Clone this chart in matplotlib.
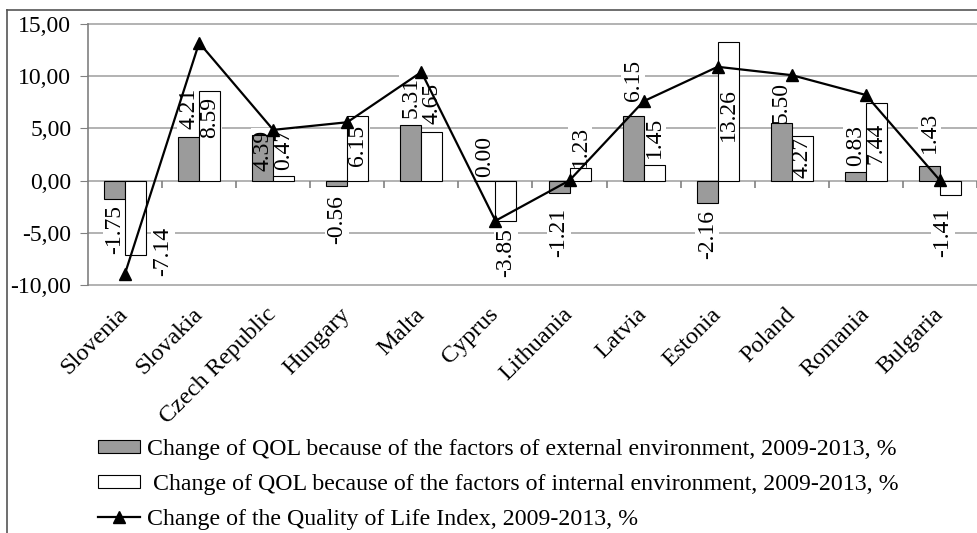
import matplotlib
matplotlib.use("Agg")
import matplotlib.pyplot as plt
from matplotlib.patches import Patch
from matplotlib.lines import Line2D
import numpy as np

countries = ["Slovenia", "Slovakia", "Czech Republic", "Hungary", "Malta", "Cyprus",
             "Lithuania", "Latvia", "Estonia", "Poland", "Romania", "Bulgaria"]
external = [-1.75, 4.21, 4.39, -0.56, 5.31, 0.00, -1.21, 6.15, -2.16, 5.50, 0.83, 1.43]
internal = [-7.14, 8.59, 0.47, 6.15, 4.65, -3.85, 1.23, 1.45, 13.26, 4.27, 7.44, -1.41]
qol_index = [-8.9, 13.2, 4.86, 5.59, 10.4, -3.85, 0.02, 7.6, 10.9, 10.1, 8.2, 0.02]

# label placement (data-unit heights of label centres, as in the original)
ext_label_y = [-4.7, 6.9, 2.9, -3.7, 8.0, 2.3, -5.0, 9.6, -5.2, 7.5, 3.4, 4.6]
int_label_y = [-6.8, 6.0, 3.0, 3.4, 7.4, -6.9, 3.3, 4.1, 6.3, 2.2, 3.6, -5.0]
int_label_dx = [0.37, 0, 0, 0, 0, 0, 0, 0, 0, 0, 0, -0.1]

yticks = [15, 10, 5, 0, -5, -10]
ytick_labels = ["15,00", "10,00", "5,00", "0,00", "-5,00", "-10,00"]

labels = ["Change of QOL because of the factors of external environment, 2009-2013, %",
          " Change of QOL because of the factors of internal environment, 2009-2013, %",
          "Change of the Quality of Life Index, 2009-2013, %"]

plt.rcParams['font.family'] = ['Liberation Serif', 'DejaVu Serif']

W, H = 978, 533
fig = plt.figure(figsize=(W / 100, H / 100), dpi=100)
ax = fig.add_axes([88 / W, (H - 285) / H, (977 - 88) / W, (285 - 24) / H])

x = np.arange(len(countries))
bw = 0.283
grid_c = '#a6a6a6'

ax.set_xlim(-0.5, 11.5)
ax.set_ylim(-10, 15)
ax.set_yticks(yticks)
ax.set_yticklabels(ytick_labels, fontsize=17)
for yv in yticks:
    ax.axhline(yv, color=grid_c, lw=1.2, zorder=0.5, clip_on=False)

ax.bar(x - bw / 2, external, width=bw, color='#9b9b9b', edgecolor='black', linewidth=0.8, zorder=2)
ax.bar(x + bw / 2, internal, width=bw, color='white', edgecolor='black', linewidth=0.8, zorder=2)

# category boundary tick marks on zero line
ax.vlines(np.arange(0.5, 12, 1.0), 0, -0.75, color='#808080', lw=1.2, zorder=1, clip_on=False)


def put_label(xp, yp, txt):
    # white background behind bars (hides gridlines), text drawn on top of bars
    ax.text(xp, yp, txt, rotation=90, ha='center', va='center', fontsize=17,
            color='none', zorder=1, bbox=dict(facecolor='white', edgecolor='none', pad=1))
    ax.text(xp, yp, txt, rotation=90, ha='center', va='center', fontsize=17,
            color='black', zorder=4)


for i in range(len(countries)):
    put_label(x[i] - bw / 2, ext_label_y[i], f"{external[i]:.2f}")
    put_label(x[i] + bw / 2 + int_label_dx[i], int_label_y[i], f"{internal[i]:.2f}")

ax.plot(x, qol_index, color='black', lw=1.6, marker='^', markersize=9, zorder=5, clip_on=False)

ax.set_xticks(x)
ax.set_xticklabels(countries, rotation=45, ha='right', va='center', rotation_mode='anchor', fontsize=17.5)
ax.tick_params(axis='x', length=0, pad=19)
ax.tick_params(axis='y', length=6, color='#808080', pad=6, direction='out')

for s in ['top', 'right', 'bottom']:
    ax.spines[s].set_visible(False)
ax.spines['left'].set_color('#808080')
ax.spines['left'].set_linewidth(1.2)

# outer frame
fig.add_artist(Line2D([7 / W, 1.0], [(H - 10) / H] * 2, color='#555555', lw=1.2))
fig.add_artist(Line2D([7 / W] * 2, [0, (H - 10) / H], color='#555555', lw=1.2))

handles = [Patch(facecolor='#9b9b9b', edgecolor='black', linewidth=0.8),
           Patch(facecolor='white', edgecolor='black', linewidth=0.8),
           Line2D([], [], color='black', lw=1.6, marker='^', markersize=8)]
fig.legend(handles, labels, loc='upper left', bbox_to_anchor=(98 / W, (H - 439) / H),
           frameon=False, fontsize=17.2, handlelength=1.75, handleheight=0.5,
           handletextpad=0.3, labelspacing=0.58, borderpad=0, borderaxespad=0)

fig.savefig("out.png", dpi=100)
